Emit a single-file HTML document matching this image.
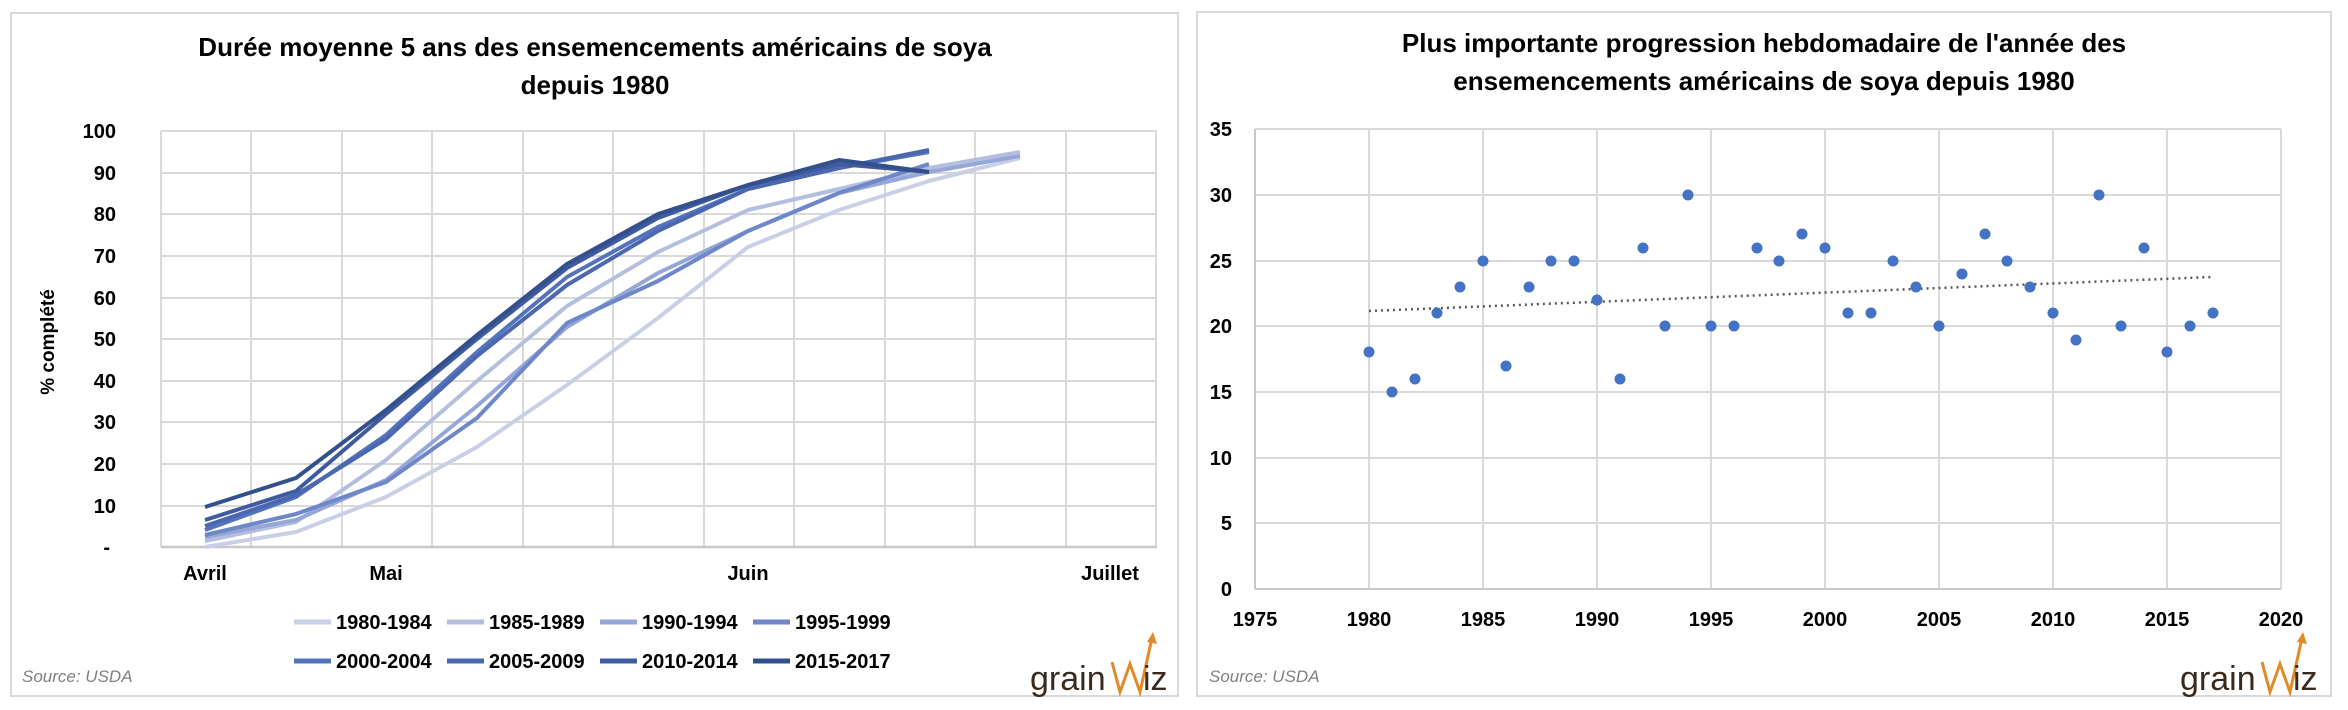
<!DOCTYPE html>
<html><head><meta charset="utf-8"><style>
html,body{margin:0;padding:0;background:#fff}
svg{display:block}
text{font-family:"Liberation Sans",sans-serif}
</style></head><body>
<svg width="2348" height="710" viewBox="0 0 2348 710" xmlns="http://www.w3.org/2000/svg">
<rect x="11" y="13" width="1167" height="683" fill="#fff" stroke="#d9d9d9" stroke-width="2"/>
<rect x="1197" y="12" width="1134" height="684" fill="#fff" stroke="#d9d9d9" stroke-width="2"/>

<!-- LEFT CHART -->
<text x="595" y="56" text-anchor="middle" font-size="26" font-weight="bold">Durée moyenne 5 ans des ensemencements américains de soya</text>
<text x="595" y="94" text-anchor="middle" font-size="26" font-weight="bold">depuis 1980</text>
<g stroke="#d9d9d9" stroke-width="2">
<line x1="161" y1="131" x2="1157" y2="131"/><line x1="161" y1="173" x2="1157" y2="173"/><line x1="161" y1="214" x2="1157" y2="214"/><line x1="161" y1="256" x2="1157" y2="256"/><line x1="161" y1="298" x2="1157" y2="298"/><line x1="161" y1="339" x2="1157" y2="339"/><line x1="161" y1="381" x2="1157" y2="381"/><line x1="161" y1="422" x2="1157" y2="422"/><line x1="161" y1="464" x2="1157" y2="464"/><line x1="161" y1="506" x2="1157" y2="506"/>
<line x1="161" y1="131" x2="161" y2="547"/><line x1="251" y1="131" x2="251" y2="547"/><line x1="342" y1="131" x2="342" y2="547"/><line x1="432" y1="131" x2="432" y2="547"/><line x1="523" y1="131" x2="523" y2="547"/><line x1="613" y1="131" x2="613" y2="547"/><line x1="704" y1="131" x2="704" y2="547"/><line x1="794" y1="131" x2="794" y2="547"/><line x1="885" y1="131" x2="885" y2="547"/><line x1="975" y1="131" x2="975" y2="547"/><line x1="1066" y1="131" x2="1066" y2="547"/><line x1="1156" y1="131" x2="1156" y2="547"/>
</g>
<line x1="161" y1="547" x2="1157" y2="547" stroke="#c8c8c8" stroke-width="2.5"/>
<g font-size="20" font-weight="bold" text-anchor="end">
<text x="116" y="138">100</text><text x="116" y="180">90</text><text x="116" y="221">80</text><text x="116" y="263">70</text><text x="116" y="305">60</text><text x="116" y="346">50</text><text x="116" y="388">40</text><text x="116" y="429">30</text><text x="116" y="471">20</text><text x="116" y="513">10</text><text x="110" y="554">-</text>
</g>
<text transform="translate(54,342) rotate(-90)" text-anchor="middle" font-size="19" font-weight="bold">% complété</text>
<g font-size="20" font-weight="bold" text-anchor="middle">
<text x="205" y="580">Avril</text><text x="386" y="580">Mai</text><text x="748" y="580">Juin</text><text x="1110" y="580">Juillet</text>
</g>
<g fill="none" stroke-width="4" stroke-linejoin="round">
<polyline stroke="#c9d0e6" points="205,547 296,532 386,497 477,447 567,385 658,318 748,247 839,210 929,181 1020,158"/>
<polyline stroke="#b4bfdf" points="205,541 296,522 386,460 477,381 567,306 658,252 748,210 839,189 929,168 1020,152"/>
<polyline stroke="#95a7d6" points="205,537 296,520 386,480 477,406 567,327 658,273 748,231 839,193 929,172 1020,156"/>
<polyline stroke="#6d87c8" points="205,535 296,514 386,482 477,418 567,323 658,281 748,231 839,193 929,164"/>
<polyline stroke="#5473bd" points="205,530 296,497 386,435 477,352 567,277 658,227 748,189 839,168 929,152"/>
<polyline stroke="#4a67b0" points="205,526 296,495 386,439 477,356 567,285 658,231 748,189 839,168 929,150"/>
<polyline stroke="#3f5ba0" points="205,520 296,491 386,414 477,339 567,268 658,218 748,185 839,164 929,172"/>
<polyline stroke="#334f8c" points="205,507 296,478 386,410 477,335 567,264 658,214 748,185 839,160 929,172"/>
</g>
<g font-size="20" font-weight="bold">
<line x1="294" y1="622" x2="331" y2="622" stroke="#c9d0e6" stroke-width="5"/><text x="336" y="629">1980-1984</text>
<line x1="447" y1="622" x2="484" y2="622" stroke="#b4bfdf" stroke-width="5"/><text x="489" y="629">1985-1989</text>
<line x1="600" y1="622" x2="637" y2="622" stroke="#95a7d6" stroke-width="5"/><text x="642" y="629">1990-1994</text>
<line x1="753" y1="622" x2="790" y2="622" stroke="#6d87c8" stroke-width="5"/><text x="795" y="629">1995-1999</text>
<line x1="294" y1="661" x2="331" y2="661" stroke="#5473bd" stroke-width="5"/><text x="336" y="668">2000-2004</text>
<line x1="447" y1="661" x2="484" y2="661" stroke="#4a67b0" stroke-width="5"/><text x="489" y="668">2005-2009</text>
<line x1="600" y1="661" x2="637" y2="661" stroke="#3f5ba0" stroke-width="5"/><text x="642" y="668">2010-2014</text>
<line x1="753" y1="661" x2="790" y2="661" stroke="#334f8c" stroke-width="5"/><text x="795" y="668">2015-2017</text>
</g>
<text x="22" y="682" font-size="17" font-style="italic" fill="#808080">Source: USDA</text>
<g transform="translate(1030,0)">
<text x="0" y="690" font-size="34" fill="#3a2a1e">grain</text>
<polyline points="82,662 90,692 100,664 110,692 122,638" fill="none" stroke="#e08a2a" stroke-width="3"/>
<polygon points="117,642 123,632 127,644" fill="#e08a2a"/>
<text x="113" y="690" font-size="34" fill="#3a2a1e">iz</text>
</g>

<!-- RIGHT CHART -->
<text x="1764" y="52" text-anchor="middle" font-size="26" font-weight="bold">Plus importante progression hebdomadaire de l'année des</text>
<text x="1764" y="90" text-anchor="middle" font-size="26" font-weight="bold">ensemencements américains de soya depuis 1980</text>
<g stroke="#d9d9d9" stroke-width="2">
<line x1="1255" y1="129" x2="2281" y2="129"/><line x1="1255" y1="195" x2="2281" y2="195"/><line x1="1255" y1="261" x2="2281" y2="261"/><line x1="1255" y1="326" x2="2281" y2="326"/><line x1="1255" y1="392" x2="2281" y2="392"/><line x1="1255" y1="458" x2="2281" y2="458"/><line x1="1255" y1="523" x2="2281" y2="523"/>
<line x1="1369" y1="129" x2="1369" y2="589"/><line x1="1483" y1="129" x2="1483" y2="589"/><line x1="1597" y1="129" x2="1597" y2="589"/><line x1="1711" y1="129" x2="1711" y2="589"/><line x1="1825" y1="129" x2="1825" y2="589"/><line x1="1939" y1="129" x2="1939" y2="589"/><line x1="2053" y1="129" x2="2053" y2="589"/><line x1="2167" y1="129" x2="2167" y2="589"/><line x1="2281" y1="129" x2="2281" y2="589"/>
</g>
<line x1="1255" y1="129" x2="1255" y2="589" stroke="#c8c8c8" stroke-width="2"/>
<line x1="1255" y1="589" x2="2281" y2="589" stroke="#c8c8c8" stroke-width="2"/>
<g font-size="20" font-weight="bold" text-anchor="end">
<text x="1232" y="136">35</text><text x="1232" y="202">30</text><text x="1232" y="268">25</text><text x="1232" y="333">20</text><text x="1232" y="399">15</text><text x="1232" y="465">10</text><text x="1232" y="530">5</text><text x="1232" y="596">0</text>
</g>
<g font-size="20" font-weight="bold" text-anchor="middle">
<text x="1255" y="626">1975</text><text x="1369" y="626">1980</text><text x="1483" y="626">1985</text><text x="1597" y="626">1990</text><text x="1711" y="626">1995</text><text x="1825" y="626">2000</text><text x="1939" y="626">2005</text><text x="2053" y="626">2010</text><text x="2167" y="626">2015</text><text x="2281" y="626">2020</text>
</g>
<line x1="1369" y1="311" x2="2212" y2="277" stroke="#595959" stroke-width="2.5" stroke-dasharray="2,4"/>
<g fill="#4472c4" id="pts"></g>
<text x="1209" y="682" font-size="17" font-style="italic" fill="#808080">Source: USDA</text>
<g transform="translate(2180,0)">
<text x="0" y="690" font-size="34" fill="#3a2a1e">grain</text>
<polyline points="82,662 90,692 100,664 110,692 122,638" fill="none" stroke="#e08a2a" stroke-width="3"/>
<polygon points="117,642 123,632 127,644" fill="#e08a2a"/>
<text x="113" y="690" font-size="34" fill="#3a2a1e">iz</text>
</g>
<g fill="#4472c4">
<circle cx="1369" cy="352" r="5.5"/><circle cx="1392" cy="392" r="5.5"/><circle cx="1415" cy="379" r="5.5"/><circle cx="1437" cy="313" r="5.5"/><circle cx="1460" cy="287" r="5.5"/><circle cx="1483" cy="261" r="5.5"/><circle cx="1506" cy="366" r="5.5"/><circle cx="1529" cy="287" r="5.5"/><circle cx="1551" cy="261" r="5.5"/><circle cx="1574" cy="261" r="5.5"/>
<circle cx="1597" cy="300" r="5.5"/><circle cx="1620" cy="379" r="5.5"/><circle cx="1643" cy="248" r="5.5"/><circle cx="1665" cy="326" r="5.5"/><circle cx="1688" cy="195" r="5.5"/><circle cx="1711" cy="326" r="5.5"/><circle cx="1734" cy="326" r="5.5"/><circle cx="1757" cy="248" r="5.5"/><circle cx="1779" cy="261" r="5.5"/><circle cx="1802" cy="234" r="5.5"/>
<circle cx="1825" cy="248" r="5.5"/><circle cx="1848" cy="313" r="5.5"/><circle cx="1871" cy="313" r="5.5"/><circle cx="1893" cy="261" r="5.5"/><circle cx="1916" cy="287" r="5.5"/><circle cx="1939" cy="326" r="5.5"/><circle cx="1962" cy="274" r="5.5"/><circle cx="1985" cy="234" r="5.5"/><circle cx="2007" cy="261" r="5.5"/><circle cx="2030" cy="287" r="5.5"/>
<circle cx="2053" cy="313" r="5.5"/><circle cx="2076" cy="340" r="5.5"/><circle cx="2099" cy="195" r="5.5"/><circle cx="2121" cy="326" r="5.5"/><circle cx="2144" cy="248" r="5.5"/><circle cx="2167" cy="352" r="5.5"/><circle cx="2190" cy="326" r="5.5"/><circle cx="2213" cy="313" r="5.5"/>
</g>
</svg>
</body></html>
